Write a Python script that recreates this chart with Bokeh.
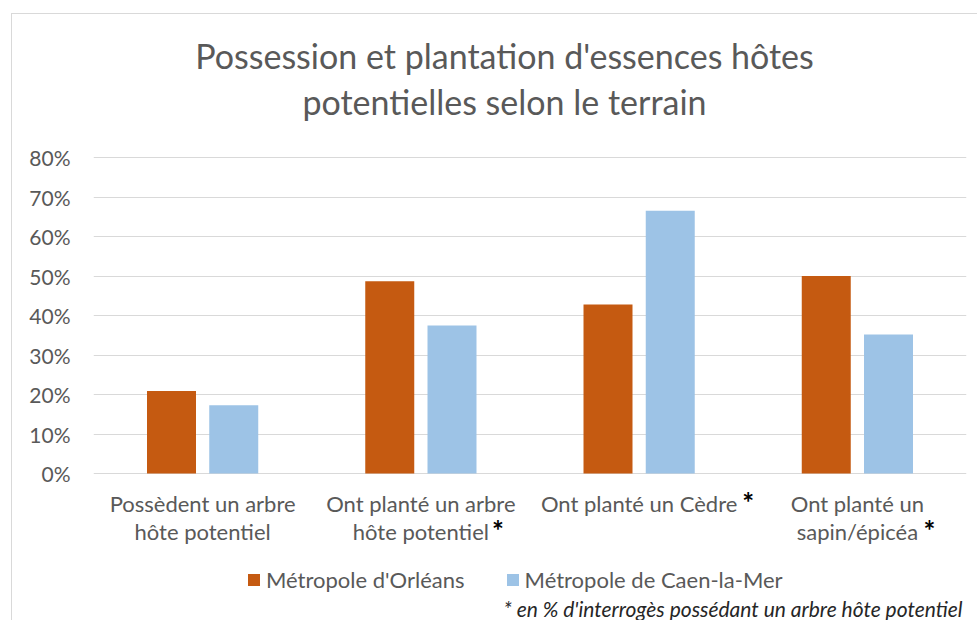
from bokeh.plotting import figure
from bokeh.models import Label, NumeralTickFormatter, FixedTicker, Range1d, ColumnDataSource
from bokeh.core.properties import value
from bokeh.transform import dodge
from bokeh.embed import file_html
from bokeh.resources import INLINE

# ---- data ----
title_lines = ["Possession et plantation d'essences hôtes", "potentielles selon le terrain"]
categories = [
    "Possèdent un arbre\nhôte potentiel",
    "Ont planté un arbre\nhôte potentiel",
    "Ont planté un Cèdre",
    "Ont planté un\nsapin/épicéa",
]
starred = [False, True, True, True]
series_names = ["Métropole d'Orléans", "Métropole de Caen-la-Mer"]
orleans = [0.209, 0.487, 0.428, 0.500]
caen = [0.173, 0.375, 0.665, 0.352]
y_ticks = [0.0, 0.1, 0.2, 0.3, 0.4, 0.5, 0.6, 0.7, 0.8]
footnote = "* en % d'interrogès possédant un arbre hôte potentiel"

ORANGE = "#C55A11"
BLUE = "#9DC3E6"
GREY = "#595959"
GRID = "#D9D9D9"
FONT = "Lato"

source = ColumnDataSource(data=dict(cat=categories, orleans=orleans, caen=caen))

# frame spans the full canvas height; 0 % sits 148 px above the bottom, 80 % -> 316 px higher
px_per_unit = 316 / 0.8
y_start = -148 / px_per_unit
y_end = y_start + 607 / px_per_unit

p = figure(
    x_range=categories,
    y_range=Range1d(y_start, y_end),
    width=966,
    height=607,
    output_backend="svg",
    toolbar_location=None,
    title_location=None,
    x_axis_location=None,
    min_border_left=81,
    min_border_right=12,
    min_border_top=0,
    min_border_bottom=0,
)
p.margin = (13, 0, 0, 11)
p.styles = {"border-top": "1px solid #D9D9D9", "border-left": "1px solid #D9D9D9"}
p.outline_line_color = None
p.background_fill_color = "white"
p.border_fill_color = "white"

bw = 0.2245
off = 0.1426
p.vbar(x=dodge("cat", -off, range=p.x_range), top="orleans", width=bw, source=source,
       fill_color=ORANGE, line_color=None, legend_label=series_names[0])
p.vbar(x=dodge("cat", off, range=p.x_range), top="caen", width=bw, source=source,
       fill_color=BLUE, line_color=None, legend_label=series_names[1])

# y axis
p.yaxis.ticker = FixedTicker(ticks=y_ticks)
p.yaxis.formatter = NumeralTickFormatter(format="0%")
p.yaxis.axis_line_color = None
p.yaxis.major_tick_line_color = None
p.yaxis.major_tick_out = 0
p.yaxis.major_tick_in = 0
p.yaxis.minor_tick_line_color = None
p.yaxis.major_label_text_font = FONT
p.yaxis.major_label_text_font_size = "21px"
p.yaxis.major_label_text_color = GREY
p.yaxis.major_label_standoff = 23

p.xgrid.grid_line_color = None
p.ygrid.grid_line_color = GRID
p.ygrid.grid_line_width = 1.2

# category labels (two lines each), drawn at y = 0 below the axis
line1 = [c.split("\n")[0] for c in categories]
line2 = [c.split("\n")[1] if "\n" in c else "" for c in categories]
lab = ColumnDataSource(data=dict(cat=categories, l1=line1, l2=line2, y0=[0.0] * 4))
p.text(x="cat", y="y0", text="l1", source=lab, y_offset=30, text_align="center",
       text_baseline="alphabetic", text_font=value(FONT), text_font_size="22px",
       text_color=GREY)
p.text(x="cat", y="y0", text="l2", source=lab, y_offset=58, text_align="center",
       text_baseline="alphabetic", text_font=value(FONT), text_font_size="22px",
       text_color=GREY)

# bold asterisks after the starred labels
star_cats = [c for c, s in zip(categories, starred) if s]
star_dx = [71, 103, 66]
star_dy = [56, 28, 56]
stars = ColumnDataSource(data=dict(cat=star_cats, dx=star_dx, dy=star_dy,
                                   t=["*"] * len(star_cats), y0=[0.0] * len(star_cats)))
p.text(x="cat", y="y0", text="t", source=stars, x_offset="dx", y_offset="dy",
       text_align="left", text_baseline="alphabetic", text_font=value(FONT),
       text_font_size="28px", text_font_style="bold", text_color="black")

# title
for txt, yy in zip(title_lines, [566, 520]):
    p.add_layout(Label(x=411, y=yy, x_units="screen", y_units="screen", text=txt,
                       text_align="center", text_baseline="alphabetic",
                       text_font=FONT, text_font_size="34px", text_color=GREY))

# legend
lg = p.legend[0]
lg.location = (153, 28)
lg.orientation = "horizontal"
lg.glyph_width = 15
lg.glyph_height = 15
lg.label_standoff = 5
lg.spacing = 40
lg.padding = 0
lg.margin = 0
lg.border_line_color = None
lg.background_fill_alpha = 0
lg.label_text_font = FONT
lg.label_text_font_size = "22px"
lg.label_text_color = GREY

# footnote
p.add_layout(Label(x=869, y=13, x_units="screen", y_units="screen", text=footnote,
                   text_align="right", text_baseline="alphabetic",
                   text_font=FONT, text_font_size="21px", text_font_style="italic",
                   text_color="#262626"))

open("out.html", "w").write(file_html(p, INLINE))
